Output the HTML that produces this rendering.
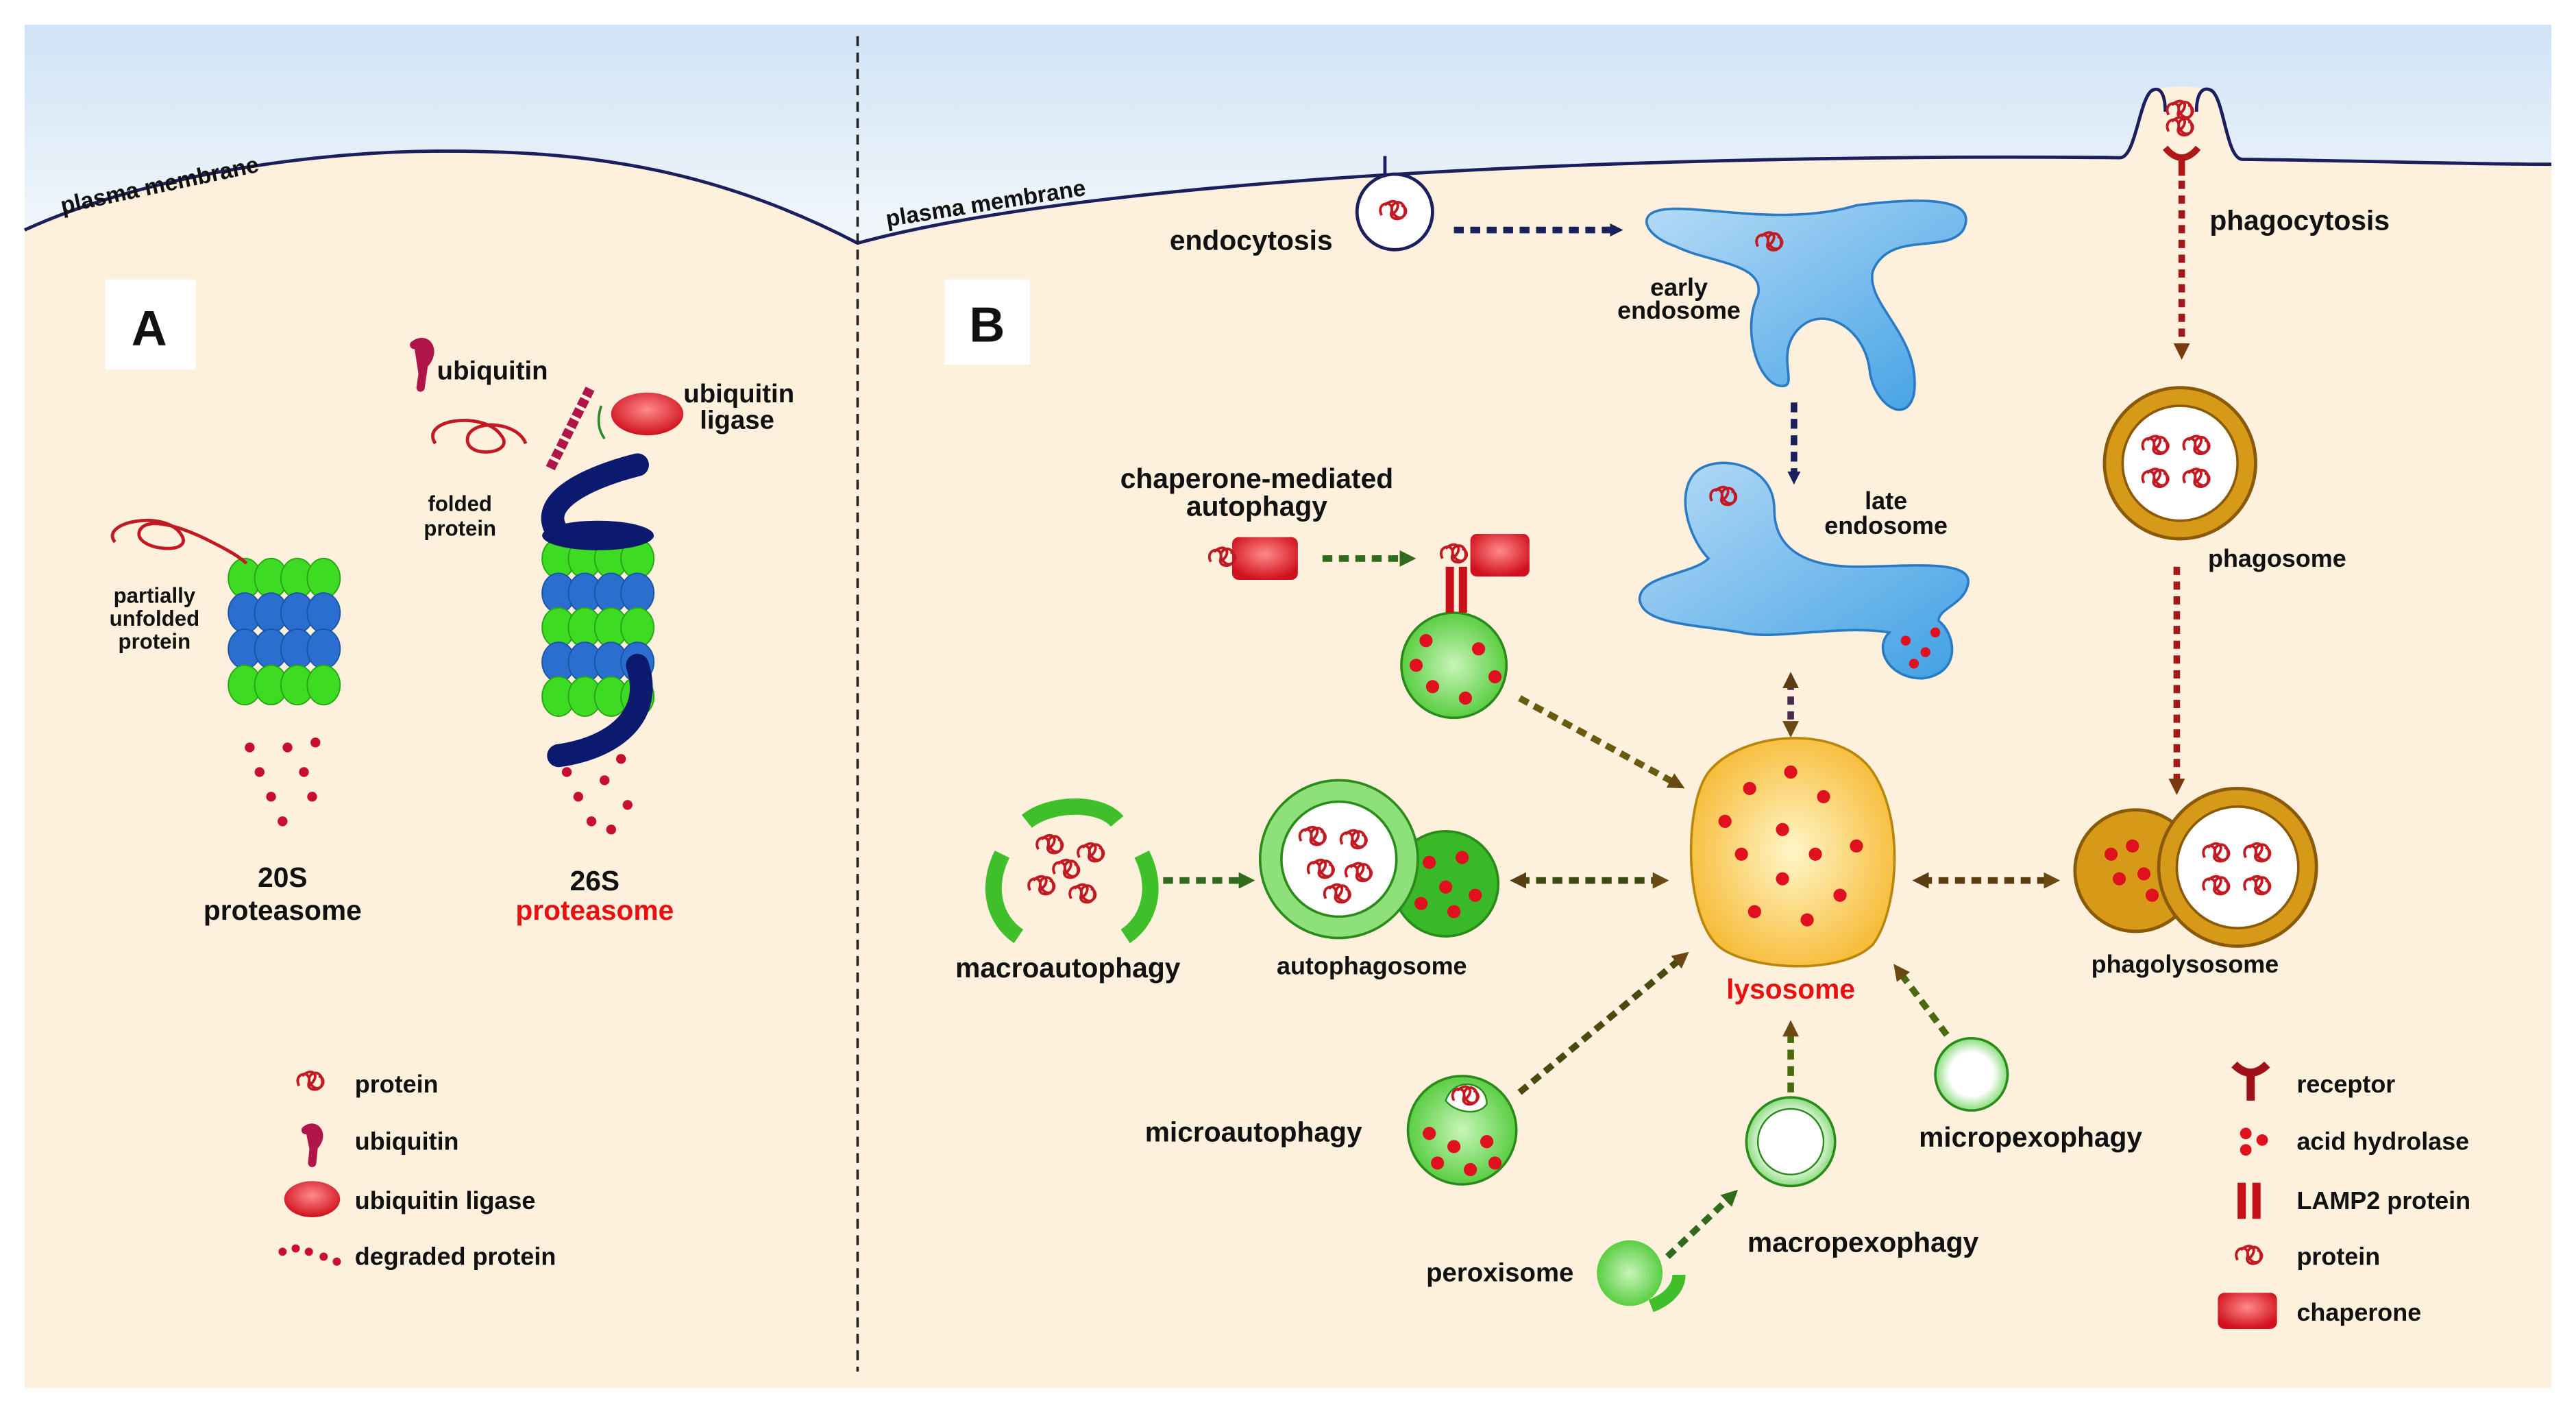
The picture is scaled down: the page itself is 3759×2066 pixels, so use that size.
<!DOCTYPE html>
<html><head><meta charset="utf-8"><style>
html,body{margin:0;padding:0;background:#fff}
svg{display:block}
text{font-family:"Liberation Sans",sans-serif;font-weight:bold;fill:#111}
</style></head><body>
<svg width="3759" height="2066" viewBox="0 0 1568 862" preserveAspectRatio="none" xmlns="http://www.w3.org/2000/svg">
<defs>
<linearGradient id="sky" x1="0" y1="0" x2="0" y2="1"><stop offset="0" stop-color="#cfe3f6"/><stop offset="1" stop-color="#f3f7fb"/></linearGradient>
<radialGradient id="lys" cx="0.5" cy="0.5" r="0.6"><stop offset="0" stop-color="#fff6c8"/><stop offset="1" stop-color="#f6b62a"/></radialGradient>
<radialGradient id="grn" cx="0.5" cy="0.5" r="0.6"><stop offset="0" stop-color="#c8f5b8"/><stop offset="1" stop-color="#45c62c"/></radialGradient>
<radialGradient id="wg" cx="0.5" cy="0.5" r="0.6"><stop offset="0.5" stop-color="#ffffff"/><stop offset="1" stop-color="#4fcb3a"/></radialGradient>
<linearGradient id="blu" x1="0" y1="0" x2="1" y2="1"><stop offset="0" stop-color="#b7dcf7"/><stop offset="1" stop-color="#3f9fe4"/></linearGradient>
<radialGradient id="red" cx="0.5" cy="0.4" r="0.6"><stop offset="0" stop-color="#ff8a8a"/><stop offset="1" stop-color="#d0101e"/></radialGradient>
<marker id="an" markerWidth="8" markerHeight="8" refX="5" refY="4" orient="auto" markerUnits="userSpaceOnUse"><path d="M0,0 L8,4 L0,8 z" fill="#1c1f5e"/></marker>
<marker id="ag" markerWidth="10" markerHeight="10" refX="6" refY="5" orient="auto" markerUnits="userSpaceOnUse"><path d="M0,0 L10,5 L0,10 z" fill="#2f6a1d"/></marker>
<marker id="ab" markerWidth="10" markerHeight="10" refX="6" refY="5" orient="auto" markerUnits="userSpaceOnUse"><path d="M0,0 L10,5 L0,10 z" fill="#6a4a12"/></marker>
<marker id="abs" markerWidth="10" markerHeight="10" refX="4" refY="5" orient="auto-start-reverse" markerUnits="userSpaceOnUse"><path d="M0,0 L10,5 L0,10 z" fill="#5a3d10"/></marker>
<marker id="ar" markerWidth="10" markerHeight="10" refX="6" refY="5" orient="auto" markerUnits="userSpaceOnUse"><path d="M0,0 L10,5 L0,10 z" fill="#7a3a10"/></marker>
<g id="prot"><path d="M-8,2 c-4,-8 8,-10 6,-2 c-2,6 10,6 8,-2 c-2,-8 -12,-2 -6,4 c5,5 10,-4 4,-6 M-6,-4 c6,-6 12,0 4,6" fill="none" stroke="#c21a22" stroke-width="1.6"/></g>
<g id="rowG"><ellipse cx="-24" cy="0" rx="10" ry="12" fill="#3ddc22" stroke="#2aa515" stroke-width="0.8"/><ellipse cx="-8" cy="0" rx="10" ry="12" fill="#3ddc22" stroke="#2aa515" stroke-width="0.8"/><ellipse cx="8" cy="0" rx="10" ry="12" fill="#3ddc22" stroke="#2aa515" stroke-width="0.8"/><ellipse cx="24" cy="0" rx="10" ry="12" fill="#3ddc22" stroke="#2aa515" stroke-width="0.8"/></g>
<g id="rowB"><ellipse cx="-24" cy="0" rx="10" ry="12" fill="#2a6fd0" stroke="#1c55a8" stroke-width="0.8"/><ellipse cx="-8" cy="0" rx="10" ry="12" fill="#2a6fd0" stroke="#1c55a8" stroke-width="0.8"/><ellipse cx="8" cy="0" rx="10" ry="12" fill="#2a6fd0" stroke="#1c55a8" stroke-width="0.8"/><ellipse cx="24" cy="0" rx="10" ry="12" fill="#2a6fd0" stroke="#1c55a8" stroke-width="0.8"/></g>
</defs>
<rect x="15" y="15" width="1538" height="830" fill="#fdf0dc"/>
<path d="M15,15 H1553 V100 C1450,99 1400,97 1365,97 C1355,97 1354,60 1346,55 C1340,52 1315,52 1310,55 C1302,60 1300,97 1290,96 C1100,94 700,100 522,148 C430,100 350,92 270,92 C180,92 80,110 15,140 Z" fill="url(#sky)"/>
<path d="M15,140 C80,110 180,92 270,92 C350,92 430,100 522,148 C700,100 1100,94 1290,96 C1300,97 1302,60 1310,55 C1316,52 1318,60 1318,68 M1337,68 C1337,58 1340,52 1346,55 C1354,60 1355,97 1365,97 C1450,98 1500,100 1553,100" fill="none" stroke="#1c1f5e" stroke-width="2"/>
<line x1="522" y1="22" x2="522" y2="835" stroke="#222" stroke-width="1.5" stroke-dasharray="6,4"/>
<text x="38" y="130" font-size="14" font-weight="normal" transform="rotate(-12 38 130)">plasma membrane</text>
<text x="540" y="138" font-size="14" font-weight="normal" transform="rotate(-9 540 138)">plasma membrane</text>
<rect x="64" y="170" width="55" height="55" fill="#fff"/><text x="80" y="210" font-size="30">A</text>
<rect x="575" y="170" width="52" height="52" fill="#fff"/><text x="590" y="208" font-size="30">B</text>
<!-- 20S proteasome -->
<g>
<use href="#rowG" x="173" y="352"/><use href="#rowB" x="173" y="373"/><use href="#rowB" x="173" y="395"/><use href="#rowG" x="173" y="417"/>
<path d="M70,330 c-10,-12 30,-20 40,-5 c10,14 -30,10 -25,-2 c5,-10 30,0 40,5 c10,5 20,10 25,15" fill="none" stroke="#c21a22" stroke-width="2"/>
<text x="94" y="367" font-size="13" text-anchor="middle">partially</text><text x="94" y="381" font-size="13" text-anchor="middle">unfolded</text><text x="94" y="395" font-size="13" text-anchor="middle">protein</text>
<g fill="#c8102e"><circle cx="152" cy="455" r="3"/><circle cx="158" cy="470" r="3"/><circle cx="165" cy="485" r="3"/><circle cx="172" cy="500" r="3"/><circle cx="175" cy="455" r="3"/><circle cx="185" cy="470" r="3"/><circle cx="192" cy="452" r="3"/><circle cx="190" cy="485" r="3"/></g>
<text x="172" y="540" font-size="17" text-anchor="middle">20S</text><text x="172" y="560" font-size="17" text-anchor="middle">proteasome</text>
</g>
<!-- 26S -->
<g>
<use href="#rowG" x="364" y="340"/><use href="#rowB" x="364" y="361"/><use href="#rowG" x="364" y="382"/><use href="#rowB" x="364" y="403"/><use href="#rowG" x="364" y="424"/>
<path d="M388,283 C360,290 325,305 340,325" fill="none" stroke="#0b1a6e" stroke-width="14" stroke-linecap="round"/>
<path d="M388,405 C398,435 375,455 340,460" fill="none" stroke="#0b1a6e" stroke-width="14" stroke-linecap="round"/>
<ellipse cx="364" cy="326" rx="34" ry="9" fill="#0b1a6e"/>
<path d="M265,270 c-10,-15 30,-20 40,-5 c10,12 -25,15 -20,0 c5,-10 30,-8 35,5" fill="none" stroke="#c21a22" stroke-width="2"/>
<path d="M335,285 l25,-50" stroke="#b0154a" stroke-width="6" stroke-dasharray="5,2"/>
<path d="M366,247 q-4,12 2,20" fill="none" stroke="#2a8a2a" stroke-width="1.5"/>
<ellipse cx="394" cy="252" rx="22" ry="13" fill="url(#red)"/>
<path d="M252,210 c8,-6 14,4 6,12 l-2,14" fill="#b0154a" stroke="#b0154a" stroke-width="5" stroke-linecap="round"/>
<text x="266" y="231" font-size="16">ubiquitin</text>
<text x="416" y="245" font-size="16">ubiquitin</text><text x="426" y="261" font-size="16">ligase</text>
<text x="280" y="311" font-size="13" text-anchor="middle">folded</text><text x="280" y="326" font-size="13" text-anchor="middle">protein</text>
<g fill="#c8102e"><circle cx="345" cy="470" r="3"/><circle cx="352" cy="485" r="3"/><circle cx="360" cy="500" r="3"/><circle cx="368" cy="475" r="3"/><circle cx="378" cy="462" r="3"/><circle cx="382" cy="490" r="3"/><circle cx="372" cy="505" r="3"/></g>
<text x="362" y="542" font-size="17" text-anchor="middle">26S</text><text x="362" y="560" font-size="17" text-anchor="middle" style="fill:#e81010">proteasome</text>
</g>
<!-- legend A -->
<use href="#prot" x="190" y="659"/><text x="216" y="665" font-size="15">protein</text>
<path d="M186,688 c6,-5 12,3 5,10 l-1,10" fill="#b0154a" stroke="#b0154a" stroke-width="5" stroke-linecap="round"/><text x="216" y="700" font-size="15">ubiquitin</text>
<ellipse cx="190" cy="730" rx="17" ry="11" fill="url(#red)"/><text x="216" y="736" font-size="15">ubiquitin ligase</text>
<g fill="#c8102e"><circle cx="172" cy="762" r="2.5"/><circle cx="180" cy="760" r="2.5"/><circle cx="188" cy="762" r="2.5"/><circle cx="197" cy="765" r="2.5"/><circle cx="205" cy="768" r="2.5"/></g><text x="216" y="770" font-size="15">degraded protein</text>
<!-- B: endocytosis -->
<path d="M843,95 v12" stroke="#1c1f5e" stroke-width="2"/>
<circle cx="849" cy="129" r="23" fill="#fff" stroke="#1c1f5e" stroke-width="2"/><use href="#prot" x="849" y="129"/>
<text x="712" y="152" font-size="17">endocytosis</text>
<line x1="885" y1="140" x2="985" y2="140" stroke="#1c1f5e" stroke-width="4" stroke-dasharray="6,4" marker-end="url(#an)"/>
<path d="M1005,130 C1020,120 1080,140 1130,125 C1170,120 1205,120 1195,140 C1185,155 1150,140 1140,165 C1135,185 1170,205 1165,240 C1160,260 1140,245 1138,225 C1135,200 1110,185 1095,200 C1080,215 1095,235 1085,235 C1070,235 1060,200 1070,180 C1075,160 1040,160 1020,150 C1005,145 998,135 1005,130 Z" fill="url(#blu)" stroke="#2a7ac4" stroke-width="1.5"/>
<use href="#prot" x="1078" y="148"/>
<text x="1022" y="180" font-size="15" text-anchor="middle">early</text><text x="1022" y="194" font-size="15" text-anchor="middle">endosome</text>
<line x1="1092" y1="245" x2="1092" y2="292" stroke="#1c1f5e" stroke-width="4" stroke-dasharray="6,4" marker-end="url(#an)"/>
<path d="M1030,290 C1040,275 1080,280 1080,310 C1080,335 1100,345 1130,345 C1160,345 1200,340 1198,355 C1196,368 1180,370 1180,378 C1190,385 1195,410 1170,413 C1150,413 1140,395 1150,385 C1120,380 1080,390 1060,385 C1030,380 1000,380 998,365 C998,350 1030,350 1040,340 C1030,330 1020,305 1030,290 Z" fill="url(#blu)" stroke="#2a7ac4" stroke-width="1.5"/>
<use href="#prot" x="1050" y="303"/>
<g fill="#e0101e"><circle cx="1160" cy="390" r="3"/><circle cx="1172" cy="397" r="3"/><circle cx="1165" cy="404" r="3"/><circle cx="1178" cy="385" r="3"/></g>
<text x="1148" y="310" font-size="15" text-anchor="middle">late</text><text x="1148" y="325" font-size="15" text-anchor="middle">endosome</text>
<line x1="1090" y1="415" x2="1090" y2="445" stroke="#4a2a4a" stroke-width="4" stroke-dasharray="5,4" marker-end="url(#ab)" marker-start="url(#abs)"/>
<!-- phagocytosis -->
<g transform="translate(1328,68)"><use href="#prot" x="0" y="0"/><use href="#prot" x="0" y="10"/></g>
<path d="M1318,90 q10,12 20,0 M1328,97 v10" stroke="#b01818" stroke-width="4" fill="none"/>
<line x1="1328" y1="110" x2="1328" y2="215" stroke="#a01818" stroke-width="4" stroke-dasharray="5,4" marker-end="url(#ar)"/>
<text x="1345" y="140" font-size="17">phagocytosis</text>
<circle cx="1327" cy="282" r="46" fill="#d79a18" stroke="#8a5a08" stroke-width="2"/><circle cx="1327" cy="282" r="35" fill="#fff" stroke="#8a5a08" stroke-width="1.5"/>
<use href="#prot" x="1313" y="272"/><use href="#prot" x="1338" y="272"/><use href="#prot" x="1313" y="292"/><use href="#prot" x="1338" y="292"/>
<text x="1344" y="345" font-size="15">phagosome</text>
<line x1="1325" y1="345" x2="1325" y2="480" stroke="#a01818" stroke-width="4" stroke-dasharray="5,4" marker-end="url(#ar)"/>
<circle cx="1300" cy="530" r="37" fill="#d79a18" stroke="#8a5a08" stroke-width="2"/>
<g fill="#e0101e"><circle cx="1285" cy="520" r="4"/><circle cx="1298" cy="515" r="4"/><circle cx="1290" cy="535" r="4"/><circle cx="1305" cy="532" r="4"/><circle cx="1310" cy="545" r="4"/></g>
<circle cx="1362" cy="528" r="48" fill="#d79a18" stroke="#8a5a08" stroke-width="2"/><circle cx="1362" cy="528" r="37" fill="#fff" stroke="#8a5a08" stroke-width="1.5"/>
<use href="#prot" x="1350" y="520"/><use href="#prot" x="1375" y="520"/><use href="#prot" x="1350" y="540"/><use href="#prot" x="1375" y="540"/>
<text x="1330" y="592" font-size="15" text-anchor="middle">phagolysosome</text>
<line x1="1170" y1="536" x2="1250" y2="536" stroke="#5a3d10" stroke-width="4" stroke-dasharray="6,4" marker-end="url(#ab)" marker-start="url(#abs)"/>
<!-- lysosome -->
<path d="M1040,470 C1060,445 1120,440 1140,470 C1160,500 1155,555 1140,575 C1120,595 1060,590 1045,575 C1025,555 1025,490 1040,470 Z" fill="url(#lys)" stroke="#b8860b" stroke-width="1.5"/>
<g fill="#e0101e"><circle cx="1065" cy="480" r="4"/><circle cx="1090" cy="470" r="4"/><circle cx="1110" cy="485" r="4"/><circle cx="1130" cy="515" r="4"/><circle cx="1085" cy="505" r="4"/><circle cx="1060" cy="520" r="4"/><circle cx="1105" cy="520" r="4"/><circle cx="1085" cy="535" r="4"/><circle cx="1120" cy="545" r="4"/><circle cx="1068" cy="555" r="4"/><circle cx="1100" cy="560" r="4"/><circle cx="1050" cy="500" r="4"/></g>
<text x="1090" y="608" font-size="17" text-anchor="middle" style="fill:#e81010">lysosome</text>
<!-- CMA -->
<text x="765" y="297" font-size="17" text-anchor="middle">chaperone-mediated</text><text x="765" y="314" font-size="17" text-anchor="middle">autophagy</text>
<rect x="750" y="327" width="40" height="26" rx="4" fill="url(#red)"/><use href="#prot" x="745" y="340"/>
<line x1="805" y1="340" x2="858" y2="340" stroke="#2f6a1d" stroke-width="4" stroke-dasharray="6,4" marker-end="url(#ag)"/>
<rect x="895" y="325" width="36" height="26" rx="4" fill="url(#red)"/><use href="#prot" x="886" y="338"/>
<circle cx="885" cy="405" r="32" fill="url(#grn)" stroke="#2a8a1a" stroke-width="1.5"/>
<rect x="880" y="345" width="5" height="28" fill="#c81018"/><rect x="888" y="345" width="5" height="28" fill="#c81018"/>
<g fill="#e0101e"><circle cx="868" cy="390" r="4"/><circle cx="900" cy="395" r="4"/><circle cx="872" cy="418" r="4"/><circle cx="892" cy="425" r="4"/><circle cx="910" cy="412" r="4"/><circle cx="862" cy="405" r="4"/></g>
<line x1="925" y1="425" x2="1022" y2="478" stroke="#6a5a10" stroke-width="4" stroke-dasharray="6,4" marker-end="url(#ab)"/>
<!-- macroautophagy -->
<path d="M625,500 C640,488 670,488 680,500" fill="none" stroke="#3fbf2a" stroke-width="10"/>
<path d="M610,520 C600,540 605,560 620,570" fill="none" stroke="#3fbf2a" stroke-width="10"/>
<path d="M695,520 C705,540 700,560 685,570" fill="none" stroke="#3fbf2a" stroke-width="10"/>
<use href="#prot" x="640" y="515"/><use href="#prot" x="665" y="520"/><use href="#prot" x="635" y="540"/><use href="#prot" x="660" y="545"/><use href="#prot" x="650" y="530"/>
<text x="650" y="595" font-size="17" text-anchor="middle">macroautophagy</text>
<line x1="708" y1="536" x2="760" y2="536" stroke="#2f6a1d" stroke-width="4" stroke-dasharray="6,4" marker-end="url(#ag)"/>
<circle cx="880" cy="538" r="32" fill="#39b82a" stroke="#2a8a1a" stroke-width="1.5"/>
<g fill="#e0101e"><circle cx="870" cy="525" r="4"/><circle cx="890" cy="522" r="4"/><circle cx="880" cy="540" r="4"/><circle cx="898" cy="545" r="4"/><circle cx="865" cy="550" r="4"/><circle cx="885" cy="555" r="4"/></g>
<circle cx="815" cy="523" r="48" fill="#8ee07a" stroke="#2a8a1a" stroke-width="1.5"/><circle cx="815" cy="523" r="35" fill="#fff" stroke="#2a8a1a" stroke-width="1.5"/>
<use href="#prot" x="800" y="510"/><use href="#prot" x="825" y="512"/><use href="#prot" x="805" y="530"/><use href="#prot" x="828" y="532"/><use href="#prot" x="815" y="545"/>
<text x="835" y="593" font-size="15" text-anchor="middle">autophagosome</text>
<line x1="925" y1="536" x2="1012" y2="536" stroke="#3a4a10" stroke-width="4" stroke-dasharray="6,4" marker-end="url(#ab)" marker-start="url(#abs)"/>
<!-- microautophagy -->
<circle cx="890" cy="688" r="33" fill="url(#grn)" stroke="#2a8a1a" stroke-width="1.5"/>
<path d="M880,670 c5,-15 25,-12 25,2 c-5,8 -20,5 -25,-2 z" fill="#fff" stroke="#2a8a1a"/><use href="#prot" x="893" y="668"/>
<g fill="#e0101e"><circle cx="870" cy="690" r="4"/><circle cx="885" cy="698" r="4"/><circle cx="905" cy="695" r="4"/><circle cx="875" cy="708" r="4"/><circle cx="895" cy="712" r="4"/><circle cx="910" cy="708" r="4"/></g>
<text x="763" y="695" font-size="17" text-anchor="middle">microautophagy</text>
<line x1="925" y1="665" x2="1025" y2="582" stroke="#4a4a10" stroke-width="4" stroke-dasharray="6,4" marker-end="url(#ab)"/>
<!-- macropexophagy -->
<circle cx="1090" cy="695" r="27" fill="url(#wg)" stroke="#2a8a1a" stroke-width="1.5"/><circle cx="1090" cy="695" r="20" fill="#fff" stroke="#2a8a1a"/>
<line x1="1090" y1="665" x2="1090" y2="625" stroke="#4a6a10" stroke-width="4" stroke-dasharray="6,4" marker-end="url(#ab)"/>
<text x="1134" y="762" font-size="17" text-anchor="middle">macropexophagy</text>
<circle cx="992" cy="775" r="20" fill="url(#grn)"/>
<path d="M1005,795 C1018,790 1022,782 1022,776" fill="none" stroke="#3fbf2a" stroke-width="8"/>
<text x="913" y="780" font-size="16" text-anchor="middle">peroxisome</text>
<line x1="1015" y1="765" x2="1055" y2="727" stroke="#2f6a1d" stroke-width="4" stroke-dasharray="6,4" marker-end="url(#ag)"/>
<!-- micropexophagy -->
<circle cx="1200" cy="654" r="22" fill="url(#wg)" stroke="#2a8a1a" stroke-width="1.5"/>
<text x="1236" y="698" font-size="17" text-anchor="middle">micropexophagy</text>
<line x1="1185" y1="630" x2="1155" y2="590" stroke="#4a6a10" stroke-width="4" stroke-dasharray="6,4" marker-end="url(#ab)"/>
<!-- legend B -->
<path d="M1360,648 q10,10 20,0 M1370,655 v15" stroke="#a01018" stroke-width="5" fill="none"/><text x="1398" y="665" font-size="15">receptor</text>
<g fill="#e0101e"><circle cx="1367" cy="690" r="3.5"/><circle cx="1377" cy="694" r="3.5"/><circle cx="1367" cy="700" r="3.5"/></g><text x="1398" y="700" font-size="15">acid hydrolase</text>
<rect x="1362" y="720" width="5" height="22" fill="#c81018"/><rect x="1371" y="720" width="5" height="22" fill="#c81018"/><text x="1398" y="736" font-size="15">LAMP2 protein</text>
<use href="#prot" x="1370" y="765"/><text x="1398" y="770" font-size="15">protein</text>
<rect x="1350" y="787" width="36" height="22" rx="4" fill="url(#red)"/><text x="1398" y="804" font-size="15">chaperone</text>
</svg>
</body></html>
